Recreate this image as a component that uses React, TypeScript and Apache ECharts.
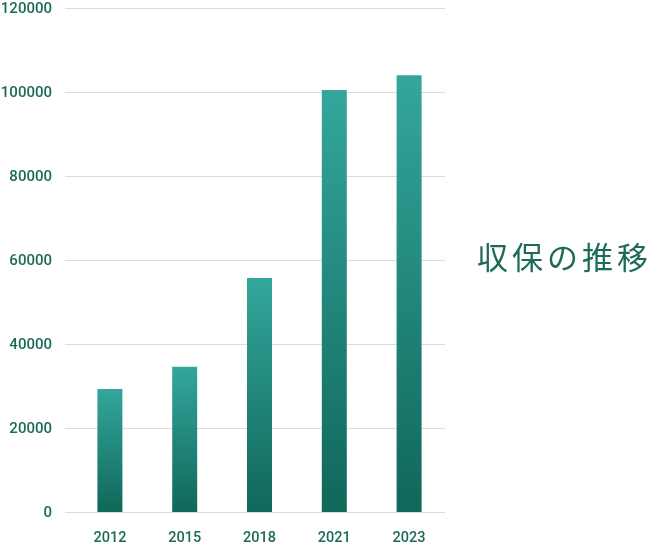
import React, { useEffect, useRef } from "react";
import * as echarts from "echarts";

const years = ["2012", "2015", "2018", "2021", "2023"];
const premiums = [29300, 34600, 55700, 100500, 104000];
const yTicks = [0, 20000, 40000, 60000, 80000, 100000, 120000];
const titleChars = ["収", "保", "の", "推", "移"];

const TEXT = "#1b6b58";

export default function App() {
  const ref = useRef<HTMLDivElement>(null);
  useEffect(() => {
    if (!ref.current) return;
    const chart = echarts.init(ref.current, undefined, { renderer: "svg" });
    const yMax = yTicks[yTicks.length - 1];
    chart.setOption({
      animation: false,
      grid: [
        { left: 65, width: 380, top: 8, bottom: 34, containLabel: false, outerBoundsMode: "none" },
        { left: 72.5, width: 374, top: 8, bottom: 34, containLabel: false, outerBoundsMode: "none" },
      ],
      xAxis: [
        { gridIndex: 0, type: "category", data: years, show: false },
        {
          gridIndex: 1,
          type: "category",
          data: years,
          axisLine: { show: false },
          axisTick: { show: false },
          axisLabel: {
            color: TEXT,
            fontFamily: "Roboto",
            fontWeight: 500,
            fontSize: 14.5,
            lineHeight: 12,
            margin: 19,
          },
        },
      ],
      yAxis: [
        {
          gridIndex: 0,
          type: "value",
          min: 0,
          max: yMax,
          interval: 20000,
          axisLine: { show: false },
          axisTick: { show: false },
          splitLine: { lineStyle: { color: "#dcdcdc", width: 1 } },
          axisLabel: {
            color: TEXT,
            fontFamily: "Roboto",
            fontWeight: 500,
            fontSize: 15,
            lineHeight: 12,
            margin: 13,
            formatter: (v: number) => String(v),
          },
        },
        { gridIndex: 1, type: "value", min: 0, max: yMax, show: false },
      ],
      series: [
        {
          type: "bar",
          xAxisIndex: 1,
          yAxisIndex: 1,
          data: premiums,
          barWidth: 25,
          itemStyle: {
            color: new echarts.graphic.LinearGradient(0, 0, 0, 1, [
              { offset: 0, color: "#34a69c" },
              { offset: 1, color: "#10675a" },
            ]),
          },
        },
      ],
      graphic: titleChars.map((c, i) => ({
        type: "text",
        left: 477 + i * 35,
        top: 240,
        style: {
          text: c,
          fill: TEXT,
          fontFamily: "Noto Sans CJK JP",
          fontWeight: 400,
          fontSize: 31,
        },
      })),
    });
    return () => chart.dispose();
  }, []);
  return (
    <div
      ref={ref}
      style={{ position: "fixed", left: 0, top: 0, width: 650, height: 546 }}
    />
  );
}
